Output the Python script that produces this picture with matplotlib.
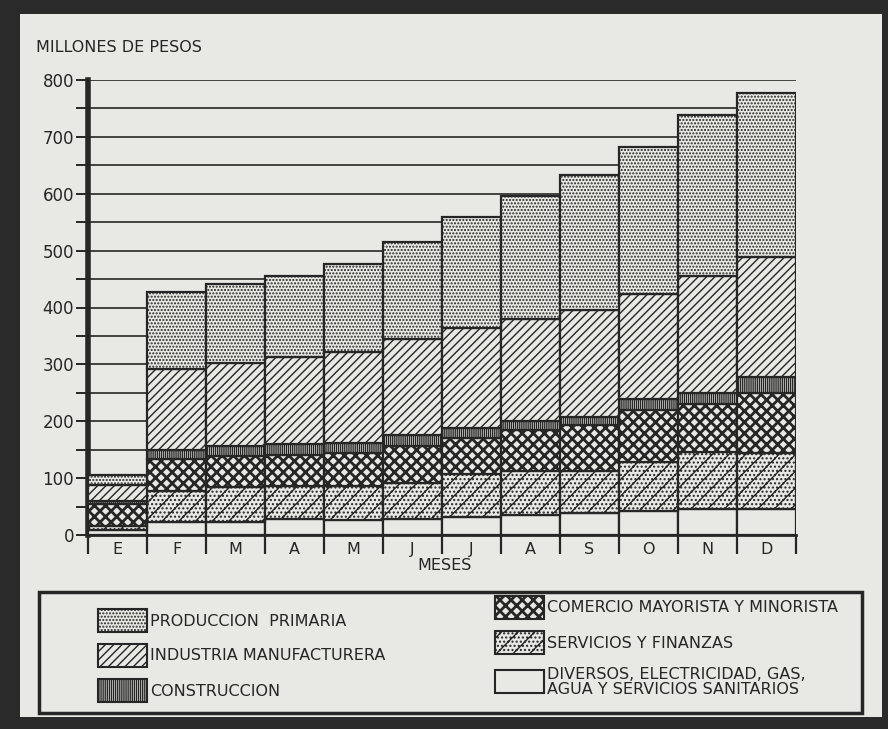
#*******************************************************************************
#plot.py
#*******************************************************************************
#Stacked bars, monthly cumulative value by sector (millones de pesos)

import numpy
import matplotlib
matplotlib.use('Agg')
import matplotlib.pyplot as plt
from matplotlib.patches import Rectangle


#*******************************************************************************
#Data
#*******************************************************************************
YV_mes=['E','F','M','A','M','J','J','A','S','O','N','D']

ZV_div=[8,22,23,28,27,28,32,35,39,43,45,46]
ZV_ser=[8,56,61,59,59,64,75,77,74,86,101,99]
ZV_com=[39,56,55,54,59,64,64,73,80,91,84,105]
ZV_con=[5,15,17,19,16,20,17,16,14,19,20,27]
ZV_ind=[28,142,147,153,161,169,176,178,189,185,206,212]
ZV_pri=[17,136,138,143,155,170,195,217,237,258,283,289]

YV_lab=['PRODUCCION  PRIMARIA','INDUSTRIA MANUFACTURERA','CONSTRUCCION',
        'COMERCIO MAYORISTA Y MINORISTA','SERVICIOS Y FINANZAS',
        'DIVERSOS, ELECTRICIDAD, GAS,\nAGUA Y SERVICIOS SANITARIOS']


#*******************************************************************************
#Styles
#*******************************************************************************
ZS_bg='#e8e8e4'
ZS_ink='#262626'
plt.rcParams['font.family']='DejaVu Sans'
plt.rcParams['hatch.linewidth']=1.0
plt.rcParams['hatch.color']=ZS_ink

YS_h_pri='.....'
YS_h_ind='////'
YS_h_con='||||||||'
YS_h_com='xxx'
YS_h_ser='//....'

#stacking order, bottom to top
ZL_lay=[(ZV_div,''),(ZV_ser,YS_h_ser),(ZV_com,YS_h_com),
        (ZV_con,YS_h_con),(ZV_ind,YS_h_ind),(ZV_pri,YS_h_pri)]


#*******************************************************************************
#Figure, frame and legend box (pixel coordinates)
#*******************************************************************************
fig=plt.figure(figsize=(8.88,7.29),dpi=100,facecolor='#2a2a2a')

ax0=fig.add_axes([0,0,1,1])
ax0.set_xlim(0,888)
ax0.set_ylim(729,0)
ax0.axis('off')
ax0.add_patch(Rectangle((20,14),862,703,facecolor=ZS_bg,edgecolor='none'))

#legend frame
ax0.add_patch(Rectangle((39,592),823,121,facecolor='none',edgecolor=ZS_ink,
                        linewidth=2.5))

ZV_lx=[98,98,98,495,495,495]
ZV_ly=[620,655,690,607,642,681]
ZV_lh=[YS_h_pri,YS_h_ind,YS_h_con,YS_h_com,YS_h_ser,'']
for JS in range(6):
     p=Rectangle((ZV_lx[JS],ZV_ly[JS]-11),49,23,facecolor=ZS_bg,
                 edgecolor=ZS_ink,linewidth=1.5,hatch=ZV_lh[JS])
     if JS==3:
          try:
               p.set_hatch_linewidth(2.0)
          except AttributeError:
               pass
     ax0.add_patch(p)
     ax0.text(ZV_lx[JS]+52,ZV_ly[JS]+1,YV_lab[JS],fontsize=11.5,
              color=ZS_ink,va='center',ha='left',linespacing=0.95)


#*******************************************************************************
#Main axes
#*******************************************************************************
ax=fig.add_axes([88/888,1-535/729,708/888,455/729])
ax.set_facecolor('none')

IV_x=numpy.arange(len(YV_mes))
ZV_bot=numpy.zeros(len(YV_mes))

for ZV_val,YS_hat in ZL_lay:
     bars=ax.bar(IV_x,ZV_val,width=1.0,bottom=ZV_bot,facecolor=ZS_bg,
                 edgecolor=ZS_ink,linewidth=1.6,hatch=YS_hat,zorder=3)
     if YS_hat==YS_h_com:
          for b in bars:
               try:
                    b.set_hatch_linewidth(2.0)
               except AttributeError:
                    pass
     ZV_bot=ZV_bot+numpy.array(ZV_val)

ax.set_xlim(-0.5,11.5)
ax.set_ylim(0,800)

#gridlines every 50
for ZS_y in numpy.arange(50,801,50):
     ax.axhline(ZS_y,color=ZS_ink,linewidth=1.2,zorder=1)

ax.set_yticks(numpy.arange(0,801,50))
ax.set_yticklabels([str(v) if v%100==0 else '' for v in range(0,801,50)],
                   fontsize=12,color=ZS_ink)
ax.tick_params(axis='y',direction='out',length=9,width=1.4,color=ZS_ink,
               pad=1)

ax.set_xticks(numpy.arange(-0.5,11.6,1.0))
ax.set_xticklabels([])
ax.tick_params(axis='x',direction='out',length=14,width=1.6,color=ZS_ink)
ax.set_xticks(IV_x,minor=True)
ax.set_xticklabels(YV_mes,minor=True,fontsize=11.5,color=ZS_ink)
ax.tick_params(axis='x',which='minor',length=0,pad=5)

ax.spines['top'].set_visible(False)
ax.spines['right'].set_visible(False)
ax.spines['left'].set_linewidth(4)
ax.spines['left'].set_color(ZS_ink)
ax.spines['bottom'].set_linewidth(2)
ax.spines['bottom'].set_color(ZS_ink)

fig.text(36/888,1-48/729,'MILLONES DE PESOS',fontsize=11.5,color=ZS_ink,
         ha='left',va='center')
fig.text(445/888,1-566/729,'MESES',fontsize=11.5,color=ZS_ink,
         ha='center',va='center')

plt.savefig('out.png',dpi=100,facecolor=fig.get_facecolor())
